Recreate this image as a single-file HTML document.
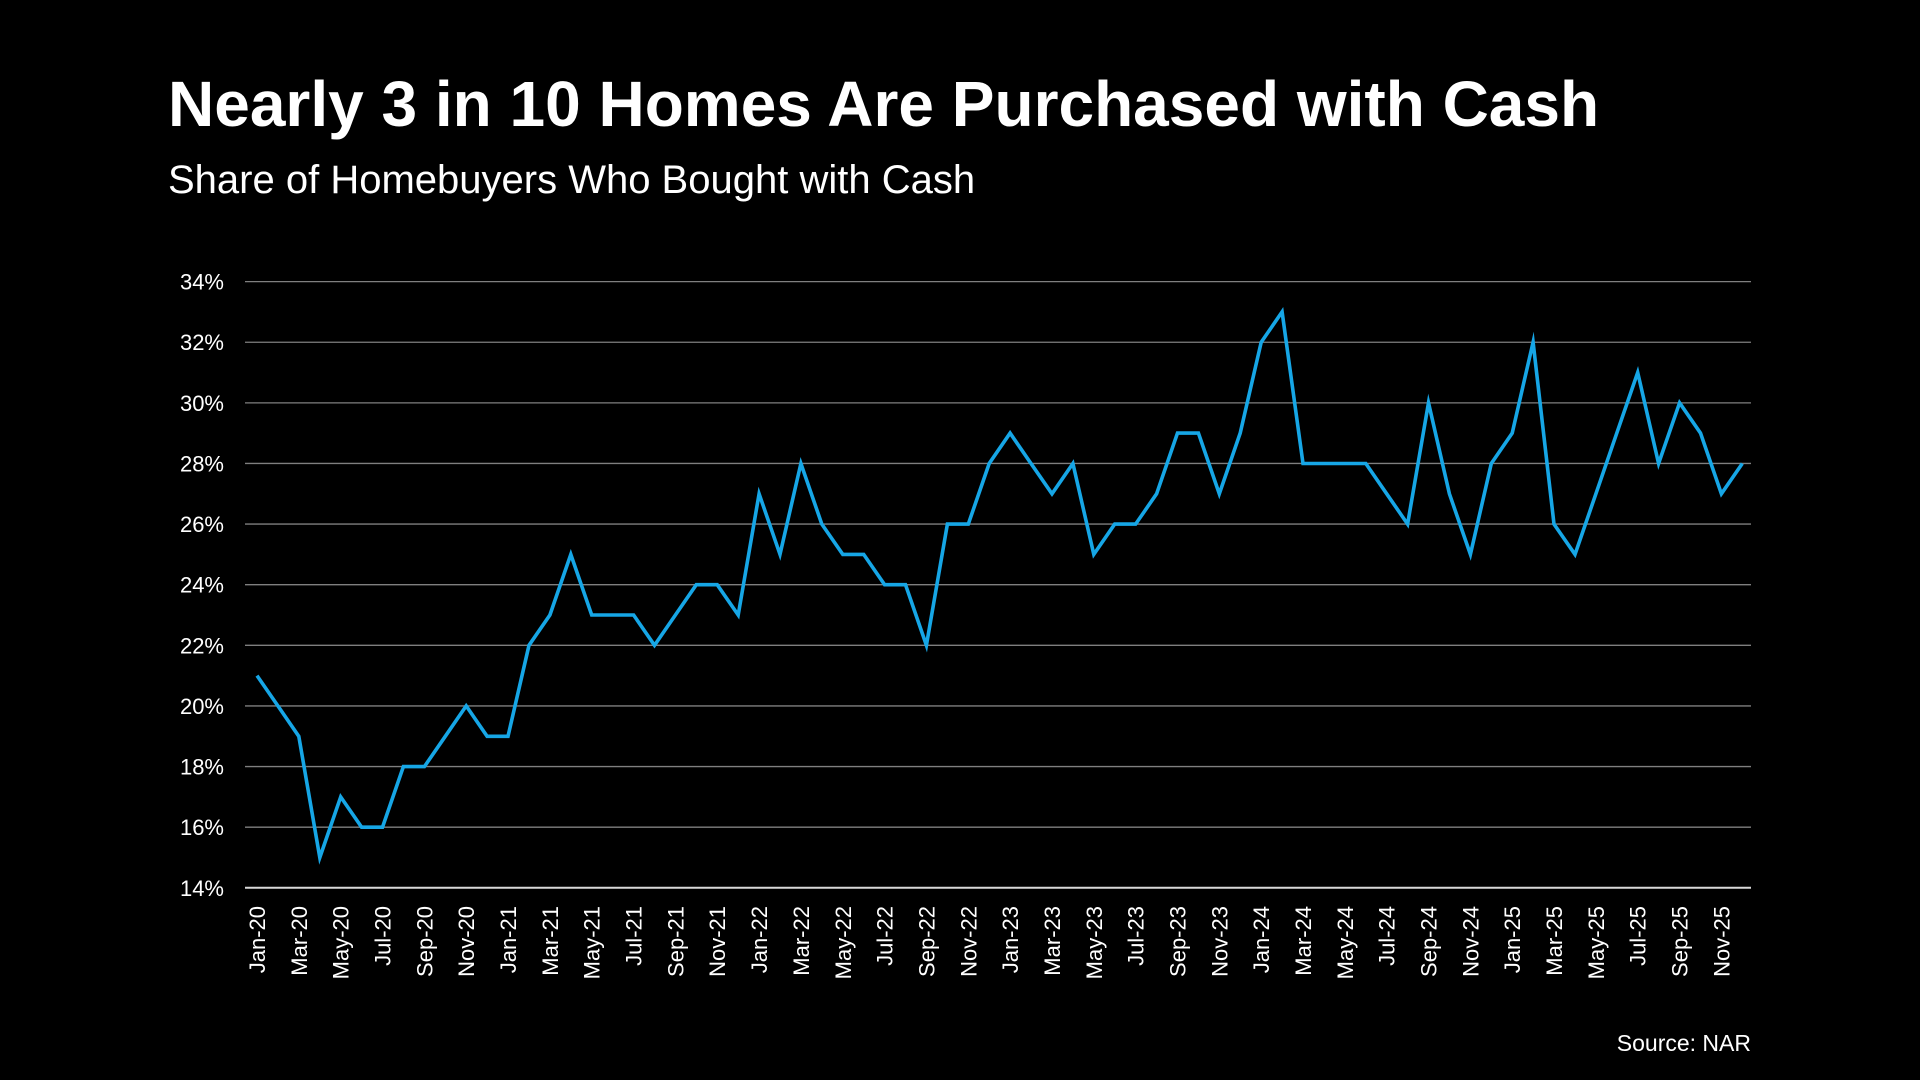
<!DOCTYPE html>
<html><head><meta charset="utf-8">
<style>
html,body{margin:0;padding:0;background:#000;width:1920px;height:1080px;overflow:hidden}
svg{display:block}
text{font-family:"Liberation Sans",Arial,sans-serif;fill:#fff}
</style></head>
<body>
<svg id="chart" width="1920" height="1080">
<text x="168" y="126" font-size="64" font-weight="bold">Nearly 3 in 10 Homes Are Purchased with Cash</text>
<text x="168" y="193" font-size="40">Share of Homebuyers Who Bought with Cash</text>
<text x="1751" y="1051" font-size="23" text-anchor="end">Source: NAR</text>
<g id="grid"></g>
<g id="yaxis"></g>
<g id="xaxis"></g>
<g id="series"></g>
</svg>
<script>
const months = ["Jan","Feb","Mar","Apr","May","Jun","Jul","Aug","Sep","Oct","Nov","Dec"];
const years = ["20","21","22","23","24","25"];
const values = [
21,20,19,15,17,16,16,18,18,19,20,19,
19,22,23,25,23,23,23,22,23,24,24,23,
27,25,28,26,25,25,24,24,22,26,26,28,
29,28,27,28,25,26,26,27,29,29,27,29,
32,33,28,28,28,28,27,26,30,27,25,28,
29,32,26,25,27,29,31,28,30,29,27,28];
const yTicks = [14,16,18,20,22,24,26,28,30,32,34];

const NS="http://www.w3.org/2000/svg";
const plotLeft=245,plotRight=1751,plotTop=281.6,plotBottom=887.8;
const x0=257,dx=20.92;
const yMin=14,yMax=34;
function xs(i){return x0+dx*i;}
function ys(v){return plotBottom-(v-yMin)/(yMax-yMin)*(plotBottom-plotTop);}
function mk(tag,attrs,parent){const e=document.createElementNS(NS,tag);for(const k in attrs)e.setAttribute(k,attrs[k]);parent.appendChild(e);return e;}

const grid=document.getElementById('grid'),ya=document.getElementById('yaxis'),xa=document.getElementById('xaxis'),ser=document.getElementById('series');
yTicks.forEach(t=>{
  const y=ys(t);
  const l=mk('line',{x1:plotLeft,x2:plotRight,y1:y,y2:y,stroke:t===yMin?'#d9d9d9':'#7f7f7f','stroke-width':t===yMin?2:1.3},grid);
  
  
  const tx=mk('text',{x:224,y:y+8,'font-size':22,'text-anchor':'end'},ya);
  tx.textContent=t+'%';
  
  
});
const labels=[];
years.forEach(y=>months.forEach(m=>labels.push(m+'-'+y)));
labels.forEach((lab,i)=>{
  if(i%2!==0)return;
  const x=xs(i)+8;
  const tx=mk('text',{x:x,y:906,'font-size':22,'text-anchor':'end',transform:`rotate(-90 ${x} 906)`},xa);
  tx.textContent=lab;
  
  
});
const pts=values.map((v,i)=>xs(i).toFixed(1)+','+ys(v).toFixed(1)).join(' ');
const pl=mk('polyline',{points:pts,fill:'none',stroke:'#16a6e6','stroke-width':3.6,'stroke-linejoin':'miter','stroke-miterlimit':10},ser);


</script>
</body></html>
